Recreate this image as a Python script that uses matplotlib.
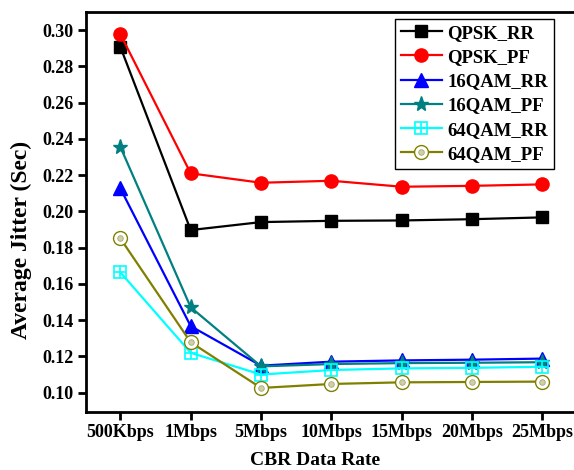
import matplotlib
matplotlib.use("Agg")
import matplotlib.pyplot as plt
from matplotlib.ticker import FormatStrFormatter

plt.rcParams['font.family'] = ['Liberation Serif', 'DejaVu Serif']
plt.rcParams['font.weight'] = 'bold'

rates = ["500Kbps", "1Mbps", "5Mbps", "10Mbps", "15Mbps", "20Mbps", "25Mbps"]

qpsk_rr = [0.2908, 0.1897, 0.1941, 0.1948, 0.1950, 0.1957, 0.1967]
qpsk_pf = [0.2978, 0.2210, 0.2158, 0.2169, 0.2136, 0.2141, 0.2149]
qam16_rr = [0.2127, 0.1367, 0.1149, 0.1171, 0.1178, 0.1182, 0.1188]
qam16_pf = [0.2356, 0.1471, 0.1145, 0.1158, 0.1163, 0.1165, 0.1168]
qam64_rr = [0.1664, 0.1220, 0.1100, 0.1125, 0.1134, 0.1137, 0.1143]
qam64_pf = [0.1851, 0.1278, 0.1026, 0.1048, 0.1057, 0.1059, 0.1061]

x = list(range(len(rates)))

fig = plt.figure(figsize=(5.74, 4.70), dpi=100)
ax = fig.add_axes([86 / 574, 58.3 / 470, 490.8 / 574, 399.7 / 470])

lw = 1.6
l1, = ax.plot(x, qpsk_rr, color='black', lw=lw, marker='s', ms=8)
l2, = ax.plot(x, qpsk_pf, color='red', lw=lw, marker='o', ms=9.5)
l3, = ax.plot(x, qam16_rr, color='blue', lw=lw, marker='^', ms=9.5)
l4, = ax.plot(x, qam16_pf, color='#008080', lw=lw, marker='*', ms=11)
l5, = ax.plot(x, qam64_rr, color='cyan', lw=lw, marker='s', ms=8,
              mfc='none', mec='cyan', mew=1.2)
l5b, = ax.plot(x, qam64_rr, ls='none', marker='+', ms=8, mec='cyan', mew=1.2)
l6, = ax.plot(x, qam64_pf, color='#808000', lw=lw, marker='o', ms=10,
              mfc='white', mec='#808000', mew=1.0)
l6b, = ax.plot(x, qam64_pf, ls='none', marker='o', ms=4,
               mfc='#d0d0a8', mec='#a8a870', mew=0.6)

ax.set_xlim(-0.488, 6.488)
ax.set_ylim(0.0895, 0.31)
ax.set_xticks(x)
ax.set_xticklabels(rates)
ax.set_yticks([0.10 + 0.02 * i for i in range(11)])
ax.yaxis.set_major_formatter(FormatStrFormatter('%.2f'))

for s in ax.spines.values():
    s.set_linewidth(2)
ax.tick_params(direction='out', length=6, width=2, labelsize=13, pad=3)

ax.set_xlabel("CBR Data Rate", fontsize=14, fontweight='bold')
ax.set_ylabel("Average Jitter (Sec)", fontsize=17, fontweight='bold')
ax.xaxis.set_label_coords(0.467, -0.123)
ax.yaxis.set_label_coords(-0.132, 0.43)
ax.xaxis.label.set_va('center')
ax.yaxis.label.set_va('center')

leg = ax.legend([l1, l2, l3, l4, (l5, l5b), (l6, l6b)],
                ["QPSK_RR", "QPSK_PF", "16QAM_RR", "16QAM_PF", "64QAM_RR", "64QAM_PF"],
                loc='upper right', bbox_to_anchor=(0.9535, 0.9825), borderaxespad=0,
                fancybox=False, framealpha=1, edgecolor='black',
                prop={'size': 13.5, 'weight': 'bold'},
                handlelength=2.2, handletextpad=0.3, labelspacing=0.38,
                borderpad=0.3)
leg.get_frame().set_linewidth(1)

fig.savefig("out.png", dpi=100)
